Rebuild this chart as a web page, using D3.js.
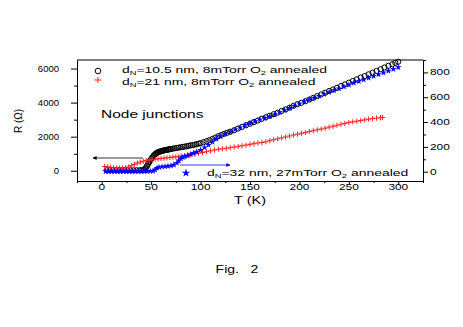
<!DOCTYPE html>
<html>
<head>
<meta charset="utf-8">
<script src="https://cdn.jsdelivr.net/npm/d3@7"></script>
<style>
html,body{margin:0;padding:0;background:#fff;}
svg{display:block;font-family:"Liberation Sans",Arial,sans-serif;}
</style>
</head>
<body>
<svg id="chart" width="463" height="327"></svg>
<script>
// ---- data ----
const xTicks = [0, 50, 100, 150, 200, 250, 300];
const xMinor = [-25, 25, 75, 125, 175, 225, 275, 325];
const yLeftTicks = [0, 2000, 4000, 6000];
const yLeftMinor = [1000, 3000, 5000];
const yRightTicks = [0, 200, 400, 600, 800];
const yRightMinor = [100, 300, 500, 700, 900];

// dN=10.5 nm (left axis, Ohm)
const blackT = [5,8,11,14,17,20,23,26,29,32,35,38,40,42,43,44,45,46,47,48,49,50,51,52,53,54,55,56,57,58,59,60,61,62,63,64,65,66,67,68,69,70,72,74,76,78,80,82,84,86,88,90,92,94,96,98,100,103,106,109,112,115,118,121,124,127,130,134,138,142,146,150,154,158,162,166,170,174,178,182,186,190,194,198,202,206,210,214,218,222,226,230,234,238,242,246,250,254,258,262,266,270,274,278,282,286,290,294,297,300];
const blackR = [30,30,30,30,30,30,30,30,30,30,30,30,35,40,60,130,200,300,400,500,600,690,780,850,920,970,1020,1060,1085,1110,1130,1150,1165,1180,1195,1210,1220,1230,1243,1255,1268,1280,1300,1320,1340,1360,1380,1400,1420,1440,1465,1490,1510,1530,1560,1590,1620,1680,1740,1800,1870,1950,2030,2100,2170,2230,2290,2380,2480,2580,2670,2760,2860,2950,3050,3140,3230,3320,3410,3510,3600,3700,3810,3910,3990,4080,4180,4280,4380,4480,4580,4680,4770,4870,4970,5070,5170,5270,5370,5470,5560,5660,5760,5860,5960,6060,6160,6250,6330,6400];

// dN=21 nm (left axis, Ohm)
const redT = [3,6,9,12,15,18,21,24,27,30,33,36,39,42,45,48,51,54,57,60,63,66,69,72,75,78,81,84,87,90,94,98,102,106,110,114,118,122,126,130,134,138,142,146,150,154,158,162,166,170,174,178,182,186,190,194,198,202,206,210,214,218,222,226,230,234,238,242,246,250,254,258,262,266,270,274,278,282,284];
const redR = [250,230,200,180,160,150,150,170,220,300,380,450,510,560,600,630,660,680,700,720,740,760,780,800,820,840,860,890,920,950,990,1030,1070,1120,1170,1220,1260,1290,1320,1350,1390,1430,1470,1510,1550,1590,1630,1660,1700,1760,1820,1870,1930,1980,2040,2100,2150,2200,2250,2300,2350,2400,2450,2500,2560,2610,2670,2730,2780,2830,2870,2910,2950,2990,3030,3060,3090,3120,3130];

// dN=32 nm (right axis, Ohm)
const blueT = [4,7,10,13,16,19,22,25,28,31,34,37,40,43,46,49,52,54,56,58,61,64,67,70,73,76,78,80,82,84,87,90,93,96,100,104,108,112,116,120,125,130,135,140,145,150,155,160,165,170,175,180,185,190,195,200,205,210,215,220,225,230,235,240,245,250,255,260,265,270,275,280,285,290,295,300];
const blueR = [3,3,3,3,3,3,3,3,3,3,3,3,3,3,3,4,6,15,30,36,40,42,45,48,55,70,90,105,115,122,130,140,150,160,175,195,215,240,265,285,305,320,340,355,375,390,405,420,432,445,460,478,495,512,530,548,566,580,595,610,625,640,655,670,685,700,715,728,742,756,770,784,798,812,826,840];

// ---- layout ----
const svg = d3.select("#chart");
const x = d3.scaleLinear([-25, 325], [77, 423]);
const yL = d3.scaleLinear([-600, 6500], [181, 60]);
const yR = d3.scaleLinear([-75, 900], [181, 60]);

function stext(parent, px, py, str, sx, anchor, size) {
  const g = parent.append("g").attr("transform", `translate(${px},${py}) scale(${sx},1)`);
  return g.append("text").attr("text-anchor", anchor).attr("font-size", size).attr("fill", "#000").text(str);
}

// axes
function styleAxis(g) {
  g.selectAll("path,line").attr("stroke", "#000").attr("stroke-width", 1);
}
svg.append("g").attr("transform", "translate(0,181)")
  .call(d3.axisBottom(x).tickValues(xTicks).tickSize(4).tickSizeOuter(0).tickFormat(""))
  .call(styleAxis);
svg.append("g").attr("transform", "translate(0,181)")
  .call(d3.axisBottom(x).tickValues(xMinor).tickSize(2).tickFormat(""))
  .call(g => g.select(".domain").remove()).call(styleAxis);
svg.append("g").attr("transform", "translate(77,0)")
  .call(d3.axisLeft(yL).tickValues(yLeftTicks).tickSize(6).tickSizeOuter(0).tickFormat(""))
  .call(styleAxis);
svg.append("g").attr("transform", "translate(77,0)")
  .call(d3.axisLeft(yL).tickValues(yLeftMinor).tickSize(3).tickFormat(""))
  .call(g => g.select(".domain").remove()).call(styleAxis);
svg.append("g").attr("transform", "translate(423,0)")
  .call(d3.axisRight(yR).tickValues(yRightTicks).tickSize(5).tickSizeOuter(0).tickFormat(""))
  .call(styleAxis);
svg.append("g").attr("transform", "translate(423,0)")
  .call(d3.axisRight(yR).tickValues(yRightMinor).tickSize(3).tickFormat(""))
  .call(g => g.select(".domain").remove()).call(styleAxis);
svg.append("line").attr("x1", 77).attr("x2", 423).attr("y1", 60).attr("y2", 60)
  .attr("stroke", "#000").attr("stroke-width", 1);

// tick labels
xTicks.forEach(v => stext(svg, x(v), 190, String(v), 1.4, "middle", 8.5));
yLeftTicks.forEach(v => stext(svg, 59, yL(v) + 3, String(v), 1.12, "end", 8.5));
yRightTicks.forEach(v => stext(svg, 430, yR(v) + 3, String(v), 1.4, "start", 8.5));

// axis titles
stext(svg, 250, 204, "T (K)", 1.45, "middle", 10);
svg.append("text").attr("transform", "translate(22,121) rotate(-90)")
  .attr("text-anchor", "middle").attr("font-size", 10).text("R (Ω)");
stext(svg, 237, 273, "Fig.\u00a0\u00a0\u00a02", 1.4, "middle", 10);

// data marks
const blackData = blackT.map((t, i) => [t, blackR[i]]);
const redData = redT.map((t, i) => [t, redR[i]]);
const blueData = blueT.map((t, i) => [t, blueR[i]]);

svg.append("g").selectAll("circle").data(blackData).join("circle")
  .attr("cx", d => x(d[0])).attr("cy", d => yL(d[1])).attr("r", 2.6)
  .attr("fill", "none").attr("stroke", "#000").attr("stroke-width", 1);

svg.append("g").selectAll("path").data(redData).join("path")
  .attr("transform", d => `translate(${x(d[0])},${yL(d[1])})`)
  .attr("d", "M-2.6,0H2.6M0,-2.6V2.6").attr("stroke", "#ff2020").attr("stroke-width", 1).attr("fill", "none");

const star = d3.symbol(d3.symbolStar).size(14);
svg.append("g").selectAll("path").data(blueData).join("path")
  .attr("transform", d => `translate(${x(d[0])},${yR(d[1])})`)
  .attr("d", star).attr("fill", "#0000ff");

// arrows
svg.append("defs").html(`
<marker id="ahB" viewBox="0 0 10 10" refX="9" refY="5" markerWidth="5" markerHeight="4" orient="auto" markerUnits="userSpaceOnUse"><path d="M0,0L10,5L0,10z" fill="#000"/></marker>
<marker id="ahU" viewBox="0 0 10 10" refX="9" refY="5" markerWidth="5" markerHeight="4" orient="auto" markerUnits="userSpaceOnUse"><path d="M0,0L10,5L0,10z" fill="#0000ff"/></marker>`);
svg.append("line").attr("x1", 143).attr("x2", 93).attr("y1", 158).attr("y2", 158)
  .attr("stroke", "#000").attr("stroke-width", 0.8).attr("marker-end", "url(#ahB)");
svg.append("line").attr("x1", 180).attr("x2", 230).attr("y1", 165).attr("y2", 165)
  .attr("stroke", "#0000ff").attr("stroke-width", 0.8).attr("marker-end", "url(#ahU)");

// legend
function legText(px, py, parts) {
  const g = svg.append("g").attr("transform", `translate(${px},${py}) scale(1.66,1)`);
  const t = g.append("text").attr("font-size", 8.4).attr("fill", "#000");
  parts.forEach(p => {
    const ts = t.append("tspan").text(p.s);
    if (p.sub) ts.attr("font-size", 5.6).attr("dy", 2);
    if (p.up) ts.attr("dy", -2);
  });
}
svg.append("circle").attr("cx", 98).attr("cy", 71).attr("r", 2.8)
  .attr("fill", "none").attr("stroke", "#000").attr("stroke-width", 1);
legText(122, 73, [{s:"d"},{s:"N",sub:1},{s:"=10.5 nm, 8mTorr O",up:1},{s:"2",sub:1},{s:" annealed",up:1}]);
svg.append("path").attr("transform", "translate(98,80)").attr("d", "M-3.5,0H3.5M0,-3V3")
  .attr("stroke", "#ff2020").attr("stroke-width", 1);
legText(122, 84.5, [{s:"d"},{s:"N",sub:1},{s:"=21 nm, 8mTorr O",up:1},{s:"2",sub:1},{s:" annealed",up:1}]);
svg.append("path").attr("transform", "translate(186,173)").attr("d", d3.symbol(d3.symbolStar).size(22)).attr("fill", "#0000ff");
legText(207, 176, [{s:"d"},{s:"N",sub:1},{s:"=32 nm, 27mTorr O",up:1},{s:"2",sub:1},{s:" annealed",up:1}]);

stext(svg, 101, 118, "Node junctions", 1.55, "start", 10);
</script>
</body>
</html>
